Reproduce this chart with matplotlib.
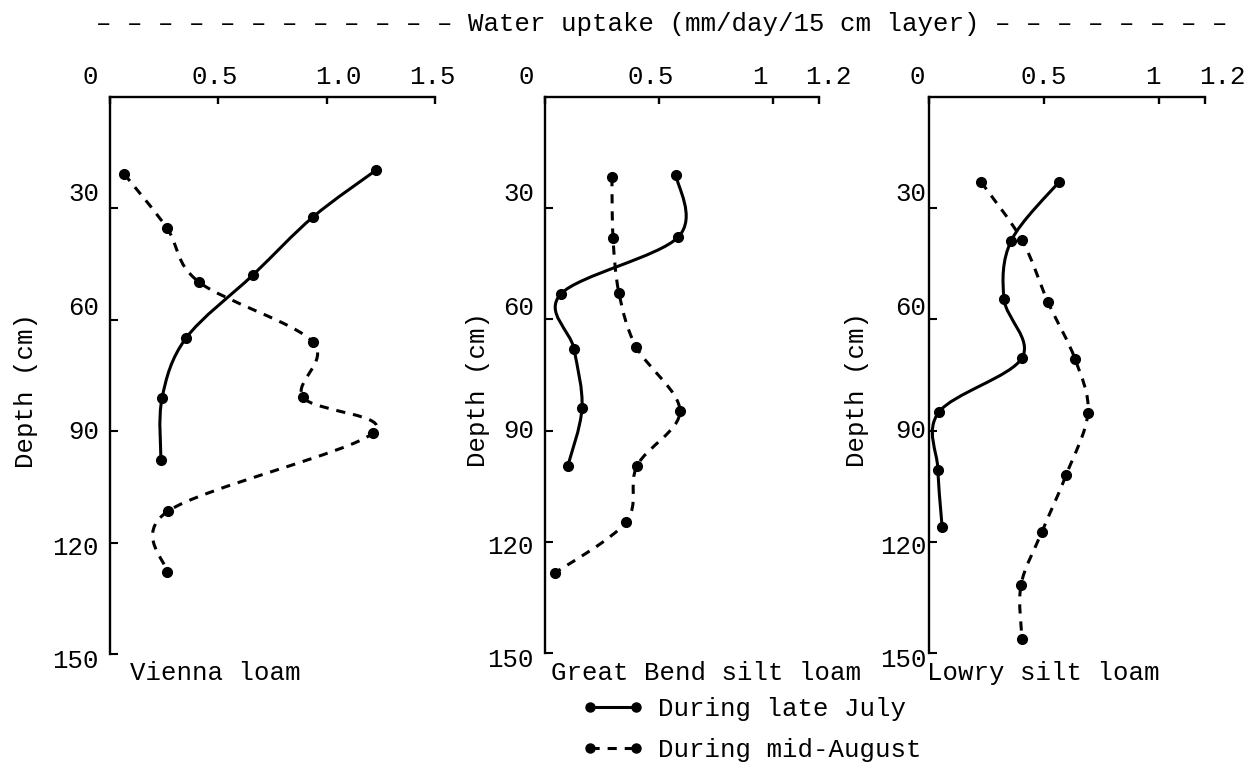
import matplotlib.pyplot as plt
import matplotlib.transforms as mtransforms
from matplotlib.path import Path
from matplotlib.patches import PathPatch
from matplotlib.lines import Line2D
import numpy as np

plt.rcParams['font.family'] = ['Liberation Mono', 'DejaVu Sans Mono']
plt.rcParams['font.size'] = 18.5

# water uptake (mm/day/15 cm layer) against depth (cm)
soils = ["Vienna loam", "Great Bend silt loam", "Lowry silt loam"]

vienna_july_depth = [19.7, 32.3, 47.9, 64.9, 81.1, 97.8]
vienna_july_uptake = [1.228, 0.937, 0.66, 0.351, 0.24, 0.235]
vienna_aug_depth = [20.7, 35.3, 49.8, 66.0, 80.8, 90.5, 111.5, 127.9]
vienna_aug_uptake = [0.065, 0.263, 0.41, 0.937, 0.89, 1.214, 0.268, 0.263]

bend_july_depth = [21.0, 37.8, 53.1, 68.0, 83.9, 99.5]
bend_july_uptake = [0.574, 0.583, 0.07, 0.127, 0.162, 0.10]
bend_aug_depth = [21.6, 38.0, 52.9, 67.4, 84.7, 99.5, 114.6, 128.4]
bend_aug_uptake = [0.293, 0.298, 0.324, 0.399, 0.591, 0.403, 0.355, 0.044]

lowry_july_depth = [22.9, 38.8, 54.5, 70.4, 85.0, 100.6, 116.0]
lowry_july_uptake = [0.565, 0.357, 0.326, 0.404, 0.043, 0.039, 0.057]
lowry_aug_depth = [22.9, 38.6, 55.3, 70.7, 85.2, 102.0, 117.3, 131.6, 146.2]
lowry_aug_uptake = [0.226, 0.404, 0.517, 0.635, 0.691, 0.596, 0.491, 0.40, 0.404]

july = [(vienna_july_uptake, vienna_july_depth),
        (bend_july_uptake, bend_july_depth),
        (lowry_july_uptake, lowry_july_depth)]
august = [(vienna_aug_uptake, vienna_aug_depth),
          (bend_aug_uptake, bend_aug_depth),
          (lowry_aug_uptake, lowry_aug_depth)]

x_max = [1.5, 1.2, 1.2]
x_ticks = [[0, 0.5, 1.0, 1.5], [0, 0.5, 1, 1.2], [0, 0.5, 1, 1.2]]
x_ticklabels = [["0", "0.5", "1.0", "1.5"], ["0", "0.5", "1", "1.2"], ["0", "0.5", "1", "1.2"]]
depth_ticks = [30, 60, 90, 120, 150]

title = "\u2013 " * 12 + "Water uptake (mm/day/15 cm layer)" + " \u2013" * 8


def smooth_path(x, y):
    # Catmull-Rom through the read points, drawn as cubic bezier pieces
    pts = np.column_stack([x, y])
    padded = np.vstack([pts[0], pts, pts[-1]])
    verts = [pts[0]]
    codes = [Path.MOVETO]
    for i in range(len(pts) - 1):
        p0, p1, p2, p3 = padded[i], padded[i + 1], padded[i + 2], padded[i + 3]
        verts += [p1 + (p2 - p0) / 6, p2 - (p3 - p1) / 6, p2]
        codes += [Path.CURVE4] * 3
    return Path(verts, codes)


fig = plt.figure(figsize=(12.46, 7.72), dpi=100)

# axes boxes in figure fractions (left, bottom, width, height)
boxes = [[0.0883, 0.1528, 0.2608, 0.7215],
         [0.4374, 0.1541, 0.2199, 0.7202],
         [0.7456, 0.1541, 0.2215, 0.7202]]
xlabel_nudge = [[-20, -4, 12, -3], [-19, -8, -13, 9], [-12, 0, -6, 17]]  # px
ylabel_nudge = [17, 14, 2, -3, -4]  # px upward
ytick_pad = [8, 8, 2]
ylabel_x = [-0.26, -0.245, -0.26]
name_x = [130, 551, 927]

lw = 2.2
dash = (0, (3, 2.6))
ms = 7

for k in range(3):
    ax = fig.add_axes(boxes[k])
    ax.set_xlim(0, x_max[k])
    ax.set_ylim(150, 0)
    for side in ['right', 'bottom']:
        ax.spines[side].set_visible(False)
    for side in ['left', 'top']:
        ax.spines[side].set_linewidth(1.7)
    ax.xaxis.tick_top()
    ax.set_xticks(x_ticks[k], x_ticklabels[k])
    ax.set_yticks(depth_ticks, [str(d) for d in depth_ticks])
    ax.tick_params(axis='x', direction='in', length=5, width=1.7, pad=6)
    ax.tick_params(axis='y', direction='in', length=6, width=1.5, pad=ytick_pad[k])

    for lab, dx in zip(ax.get_xticklabels(), xlabel_nudge[k]):
        lab.set_transform(lab.get_transform() + mtransforms.ScaledTranslation(dx / 100, 0, fig.dpi_scale_trans))
    for lab, dy in zip(ax.get_yticklabels(), ylabel_nudge):
        lab.set_transform(lab.get_transform() + mtransforms.ScaledTranslation(0, dy / 100, fig.dpi_scale_trans))

    ax.set_ylabel("Depth (cm)", va='center')
    ax.yaxis.set_label_coords(ylabel_x[k], 0.474)

    ux, dd = july[k]
    ax.add_patch(PathPatch(smooth_path(ux, dd), fill=False, ec='black', lw=lw, clip_on=False))
    ax.plot(ux, dd, 'o', color='black', ms=ms, clip_on=False)

    ux, dd = august[k]
    ax.add_patch(PathPatch(smooth_path(ux, dd), fill=False, ec='black', lw=lw, ls=dash, clip_on=False))
    ax.plot(ux, dd, 'o', color='black', ms=ms, clip_on=False)

    fig.text(name_x[k] / 1246, 1 - 673 / 772, soils[k], ha='left', va='center')

fig.text(96 / 1246, 1 - 24 / 772, title, ha='left', va='center')

handles = [Line2D([], [], color='black', lw=lw, marker='o', ms=6.5),
           Line2D([], [], color='black', lw=lw, ls=dash, marker='o', ms=6.5)]
fig.legend(handles, ["During late July", "During mid-August"], loc='upper left',
           bbox_to_anchor=(582 / 1246, 1 - 697 / 772), numpoints=2, frameon=False,
           handlelength=2.4, handletextpad=0.55, labelspacing=0.65,
           borderpad=0, borderaxespad=0)

fig.savefig("out.png", dpi=100)
